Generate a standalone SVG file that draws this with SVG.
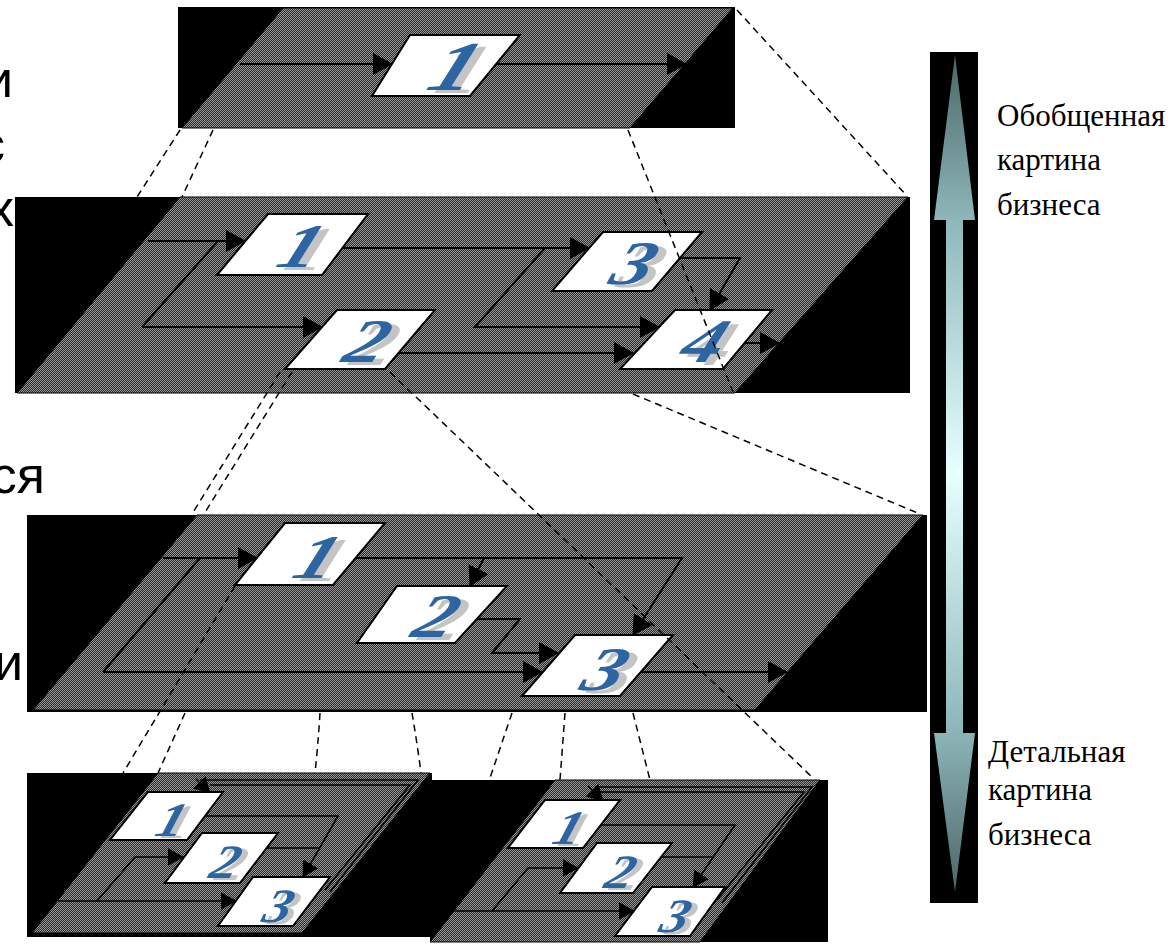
<svg xmlns="http://www.w3.org/2000/svg" width="1174" height="946" viewBox="0 0 1174 946">
  <defs>
    <!-- dithered dark-grey surface of each process plane -->
    <pattern id="dither" width="2" height="2" patternUnits="userSpaceOnUse">
      <rect width="2" height="2" fill="#2c2c2c"/>
      <rect width="1" height="1" fill="#969696"/>
      <rect x="1" y="1" width="1" height="1" fill="#969696"/>
    </pattern>
    <linearGradient id="scale" gradientUnits="userSpaceOnUse" x1="0" y1="55" x2="0" y2="892">
      <stop offset="0" stop-color="#4c6668"/>
      <stop offset="0.2" stop-color="#8fb8ba"/>
      <stop offset="0.5" stop-color="#e6ffff"/>
      <stop offset="0.8" stop-color="#8fb8ba"/>
      <stop offset="1" stop-color="#4c6668"/>
    </linearGradient>
    <marker id="ah" viewBox="0 0 20 22" refX="19" refY="11" markerWidth="10" markerHeight="11" orient="auto" markerUnits="strokeWidth">
      <path d="M0,0 L20,11 L0,22 Z" fill="#000"/>
    </marker>
  </defs>
  <style>
    .base { fill: #000; }
    .surf { fill: url(#dither); stroke: #000; stroke-width: 1; }
    .card { fill: #fff; stroke: #000; stroke-width: 2; }
    .flow { fill: none; stroke: #000; stroke-width: 2; }
    .flow.a { marker-end: url(#ah); }
    .thin { stroke-width: 1.6; }
    .dash { fill: none; stroke: #000; stroke-width: 1.5; stroke-dasharray: 7 5; }
    .dg { font-family: "Liberation Serif", serif; font-style: italic; font-weight: bold; fill: #2d65a3; text-anchor: middle; }
    .sh { font-family: "Liberation Serif", serif; font-style: italic; font-weight: bold; fill: #c4c4c4; text-anchor: middle; }
    .cap { font-family: "Liberation Serif", serif; font-size: 31px; fill: #000; }
    .side { font-family: "Liberation Sans", Arial, sans-serif; font-size: 52px; fill: #000; text-anchor: end; }
  </style>

  <rect width="1174" height="946" fill="#fff"/>

  <!-- clipped words on the left margin -->
  <g id="margin-text">
    <text class="side" x="13" y="97">и</text>
    <text class="side" x="5" y="162">с</text>
    <text class="side" x="14" y="226">х</text>
    <text class="side" x="45" y="493">ся</text>
    <text class="side" x="23" y="680">и</text>
  </g>

  <!-- level 1: whole business -->
  <g id="plane-top">
    <rect class="base" x="178" y="7" width="557" height="121"/>
    <path class="surf" d="M283,8 L733,8 L630,128 L182,128 Z"/>
    <path class="flow a" d="M240,64 L392,64"/>
    <path class="flow a" d="M496,64 L686,64"/>
    <g id="top-n1">
      <path class="card" d="M410,35 L520,35 L470,96 L372,96 Z"/>
      <text class="sh" font-size="70" transform="translate(455,93) skewX(-22) scale(1.3,1)">1</text>
      <text class="dg" font-size="70" transform="translate(447,90) skewX(-22) scale(1.3,1)">1</text>
    </g>
  </g>

  <!-- level 2: four processes -->
  <g id="plane-2">
    <rect class="base" x="15" y="197" width="895" height="196"/>
    <path class="surf" d="M180,197 L908,197 L735,393 L17,393 Z"/>
    <g class="flows">
      <path class="flow a" d="M148,241 L245,241"/>
      <path class="flow" d="M142,327 L218,241"/>
      <path class="flow a" d="M142,327 L322,327"/>
      <path class="flow a" d="M342,248 L589,248"/>
      <path class="flow a" d="M545,248 L475,327 L659,327"/>
      <path class="flow a" d="M399,353 L633,353"/>
      <path class="flow a" d="M680,258 L740,258 L710,310"/>
      <path class="flow a" d="M745,343 L779,343"/>
    </g>
    <g id="l2-n1">
      <path class="card" d="M268,214 L368,214 L322,275 L217,275 Z"/>
      <text class="sh" font-size="62" transform="translate(302,270) skewX(-22) scale(1.3,1)">1</text>
      <text class="dg" font-size="62" transform="translate(294,267) skewX(-22) scale(1.3,1)">1</text>
    </g>
    <g id="l2-n2">
      <path class="card" d="M337,310 L435,310 L385,369 L285,369 Z"/>
      <text class="sh" font-size="62" transform="translate(368,365) skewX(-22) scale(1.3,1)">2</text>
      <text class="dg" font-size="62" transform="translate(360,362) skewX(-22) scale(1.3,1)">2</text>
    </g>
    <g id="l2-n3">
      <path class="card" d="M603,232 L702,232 L652,291 L552,291 Z"/>
      <text class="sh" font-size="62" transform="translate(635,287) skewX(-22) scale(1.3,1)">3</text>
      <text class="dg" font-size="62" transform="translate(627,284) skewX(-22) scale(1.3,1)">3</text>
    </g>
    <g id="l2-n4">
      <path class="card" d="M675,310 L772,310 L723,369 L620,369 Z"/>
      <text class="sh" font-size="62" transform="translate(705,365) skewX(-22) scale(1.3,1)">4</text>
      <text class="dg" font-size="62" transform="translate(697,362) skewX(-22) scale(1.3,1)">4</text>
    </g>
  </g>

  <!-- level 3: three processes -->
  <g id="plane-3">
    <rect class="base" x="27" y="515" width="900" height="197"/>
    <path class="surf" d="M197,515 L923,515 L755,710 L33,710 Z"/>
    <g class="flows">
      <path class="flow a" d="M163,558 L257,558"/>
      <path class="flow" d="M200,558 L103,672"/>
      <path class="flow a" d="M103,672 L542,672"/>
      <path class="flow a" d="M356,558 L682,558 L633,635"/>
      <path class="flow a" d="M484,558 L470,586"/>
      <path class="flow a" d="M477,619 L520,619 L492,653 L558,653"/>
      <path class="flow a" d="M641,672 L787,672"/>
    </g>
    <g id="l3-n1">
      <path class="card" d="M285,523 L385,523 L333,585 L235,585 Z"/>
      <text class="sh" font-size="62" transform="translate(318,581) skewX(-22) scale(1.3,1)">1</text>
      <text class="dg" font-size="62" transform="translate(310,578) skewX(-22) scale(1.3,1)">1</text>
    </g>
    <g id="l3-n2">
      <path class="card" d="M397,586 L507,586 L455,643 L357,643 Z"/>
      <text class="sh" font-size="62" transform="translate(437,640) skewX(-22) scale(1.3,1)">2</text>
      <text class="dg" font-size="62" transform="translate(429,637) skewX(-22) scale(1.3,1)">2</text>
    </g>
    <g id="l3-n3">
      <path class="card" d="M575,635 L673,635 L620,696 L522,696 Z"/>
      <text class="sh" font-size="62" transform="translate(606,693) skewX(-22) scale(1.3,1)">3</text>
      <text class="dg" font-size="62" transform="translate(598,690) skewX(-22) scale(1.3,1)">3</text>
    </g>
  </g>

  <!-- level 4, left sub-process -->
  <g id="plane-4a">
    <rect class="base" x="27" y="773" width="405" height="164"/>
    <path class="surf" d="M158,773 L430,773 L302,933 L32,933 Z"/>
    <g class="flows">
      <path class="flow thin" d="M200,780 L418,780 L330,892"/>
      <path class="flow thin" d="M210,785 L410,785 L325,890"/>
      <path class="flow thin a" d="M196,779 L210,793"/>
      <path class="flow thin a" d="M205,816 L338,816 L303,877"/>
      <path class="flow thin" d="M267,848 L320,848"/>
      <path class="flow thin a" d="M97,901 L135,857 L183,857"/>
      <path class="flow thin a" d="M58,901 L236,901"/>
    </g>
    <g id="l4a-n1">
      <path class="card" d="M148,792 L223,792 L187,840 L110,840 Z"/>
      <text class="sh" font-size="48" transform="translate(173,838) skewX(-18) scale(1.15,1)">1</text>
      <text class="dg" font-size="48" transform="translate(167,836) skewX(-18) scale(1.15,1)">1</text>
    </g>
    <g id="l4a-n2">
      <path class="card" d="M202,833 L278,833 L240,883 L165,883 Z"/>
      <text class="sh" font-size="48" transform="translate(227,880) skewX(-18) scale(1.15,1)">2</text>
      <text class="dg" font-size="48" transform="translate(221,878) skewX(-18) scale(1.15,1)">2</text>
    </g>
    <g id="l4a-n3">
      <path class="card" d="M253,877 L330,877 L293,926 L218,926 Z"/>
      <text class="sh" font-size="48" transform="translate(280,924) skewX(-18) scale(1.15,1)">3</text>
      <text class="dg" font-size="48" transform="translate(274,922) skewX(-18) scale(1.15,1)">3</text>
    </g>
  </g>

  <!-- level 4, right sub-process -->
  <g id="plane-4b">
    <rect class="base" x="430" y="780" width="398" height="162"/>
    <path class="surf" d="M555,780 L820,780 L700,942 L430,942 Z"/>
    <g class="flows">
      <path class="flow thin" d="M595,787 L812,787 L722,903"/>
      <path class="flow thin" d="M600,792 L804,792 L717,900"/>
      <path class="flow thin a" d="M588,786 L603,801"/>
      <path class="flow thin a" d="M601,825 L735,825 L693,887"/>
      <path class="flow thin" d="M661,857 L713,857"/>
      <path class="flow thin a" d="M492,911 L528,868 L578,868"/>
      <path class="flow thin a" d="M455,911 L634,911"/>
    </g>
    <g id="l4b-n1">
      <path class="card" d="M545,800 L620,800 L583,848 L508,848 Z"/>
      <text class="sh" font-size="48" transform="translate(570,846) skewX(-18) scale(1.15,1)">1</text>
      <text class="dg" font-size="48" transform="translate(564,844) skewX(-18) scale(1.15,1)">1</text>
    </g>
    <g id="l4b-n2">
      <path class="card" d="M597,843 L672,843 L633,893 L560,893 Z"/>
      <text class="sh" font-size="48" transform="translate(622,890) skewX(-18) scale(1.15,1)">2</text>
      <text class="dg" font-size="48" transform="translate(616,888) skewX(-18) scale(1.15,1)">2</text>
    </g>
    <g id="l4b-n3">
      <path class="card" d="M652,887 L725,887 L690,936 L615,936 Z"/>
      <text class="sh" font-size="48" transform="translate(677,934) skewX(-18) scale(1.15,1)">3</text>
      <text class="dg" font-size="48" transform="translate(671,932) skewX(-18) scale(1.15,1)">3</text>
    </g>
  </g>

  <!-- dashed projection lines between levels -->
  <g id="connectors">
    <path class="dash" d="M180,130 L137,197"/>
    <path class="dash" d="M213,130 L182,197"/>
    <path class="dash" d="M628,130 L733,392"/>
    <path class="dash" d="M737,10 L907,196"/>
    <path class="dash" d="M280,372 L192,514"/>
    <path class="dash" d="M292,372 L204,514"/>
    <path class="dash" d="M390,372 L814,779"/>
    <path class="dash" d="M633,394 L920,514"/>
    <path class="dash" d="M235,586 L123,773"/>
    <path class="dash" d="M185,713 L158,773"/>
    <path class="dash" d="M320,713 Q318,745 315,773"/>
    <path class="dash" d="M412,713 Q417,742 421,773"/>
    <path class="dash" d="M512,713 L490,778"/>
    <path class="dash" d="M565,713 L560,780"/>
    <path class="dash" d="M633,713 L650,780"/>
  </g>

  <!-- scale of detail -->
  <g id="detail-scale">
    <rect x="930" y="52" width="48" height="851" fill="#000"/>
    <path d="M955,55 L975,220 L963,220 L963,733 L975,733 L955,892 L934,733 L946,733 L946,220 L934,220 Z" fill="url(#scale)"/>
  </g>
  <g id="label-general">
    <text class="cap" x="997" y="126">Обобщенная</text>
    <text class="cap" x="997" y="170">картина</text>
    <text class="cap" x="997" y="215">бизнеса</text>
  </g>
  <g id="label-detailed">
    <text class="cap" x="988" y="762">Детальная</text>
    <text class="cap" x="988" y="800">картина</text>
    <text class="cap" x="988" y="845">бизнеса</text>
  </g>
</svg>
